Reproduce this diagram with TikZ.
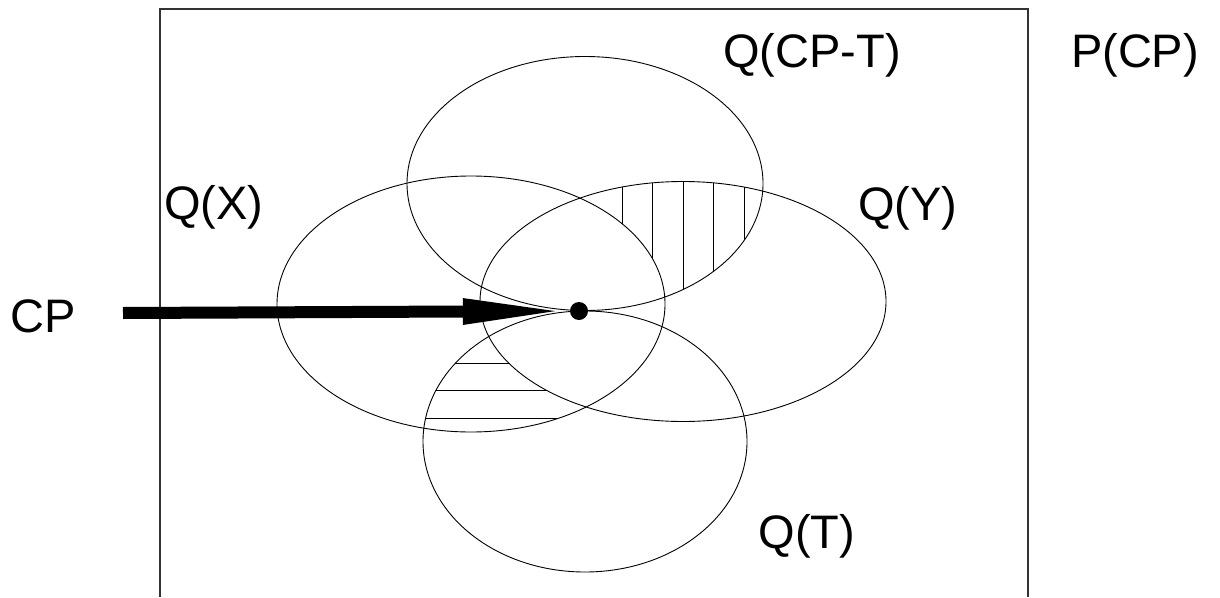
\documentclass[tikz,border=0pt]{standalone}
\usepackage{fontspec}
\setmainfont{Liberation Sans}
\usetikzlibrary{arrows.meta}

\begin{document}
\begin{tikzpicture}[x=1pt,y=-1pt,>=Latex, every node/.style={font=\fontsize{47}{56}\selectfont, inner sep=0pt, anchor=base}]
\tikzstyle{set}=[line width=0.9pt]
\tikzstyle{frame}=[line width=1.4pt, draw=black!80]
\tikzstyle{hatch}=[line width=1pt]
\tikzstyle{dot}=[circle, fill=black, inner sep=0pt, minimum size=18pt, anchor=center]
\tikzstyle{bigarrow}=[line width=12pt, -{Triangle[length=107pt,width=23pt]}]
\useasboundingbox (0,0) rectangle (1220,597);
% universe P(CP), open at the bottom
\draw[frame] (160,597) -- (160,9) -- (1028,9) -- (1028,597);
% the four sets
\coordinate (cpt) at (585,183.5);
\coordinate (qx) at (471,304);
\coordinate (qy) at (683,301.5);
\coordinate (qt) at (585,441.5);
\draw[set] (cpt) ellipse [x radius=178, y radius=127];
\draw[set] (qx) ellipse [x radius=194, y radius=128];
\draw[set] (qy) ellipse [x radius=203, y radius=120];
\draw[set] (qt) ellipse [x radius=162, y radius=130.5];
% vertical hatching: Q(CP-T) and Q(Y), not Q(X)
\begin{scope}[even odd rule]
\clip (cpt) ellipse [x radius=178, y radius=127];
\clip (qy) ellipse [x radius=203, y radius=120];
\clip (0,0) rectangle (1220,597) (qx) ellipse [x radius=194, y radius=128];
\foreach \x in {622,652,683,713,744} \draw[hatch] (\x,150) -- (\x,320);
\end{scope}
% horizontal hatching: Q(T) and Q(X), not Q(Y)
\begin{scope}[even odd rule]
\clip (qt) ellipse [x radius=162, y radius=130.5];
\clip (qx) ellipse [x radius=194, y radius=128];
\clip (0,0) rectangle (1220,597) (qy) ellipse [x radius=203, y radius=120];
\foreach \y in {363,390,418} \draw[hatch] (400,\y) -- (600,\y);
\end{scope}
% labels
\node (lcpt) at (812,67) {Q(CP-T)};
\node (lpcp) at (1135,67) {P(CP)};
\node (lqx) at (214,219) {Q(X)};
\node (lqy) at (908,220) {Q(Y)};
\node (lqt) at (807,548) {Q(T)};
\node (lcp) at (43,332) {CP};
% the point CP
\coordinate (cpstart) at (123,313);
\node[dot] (cp) at (579,311) {};
\draw[bigarrow] (cpstart) -- (cp);
\end{tikzpicture}
\end{document}
